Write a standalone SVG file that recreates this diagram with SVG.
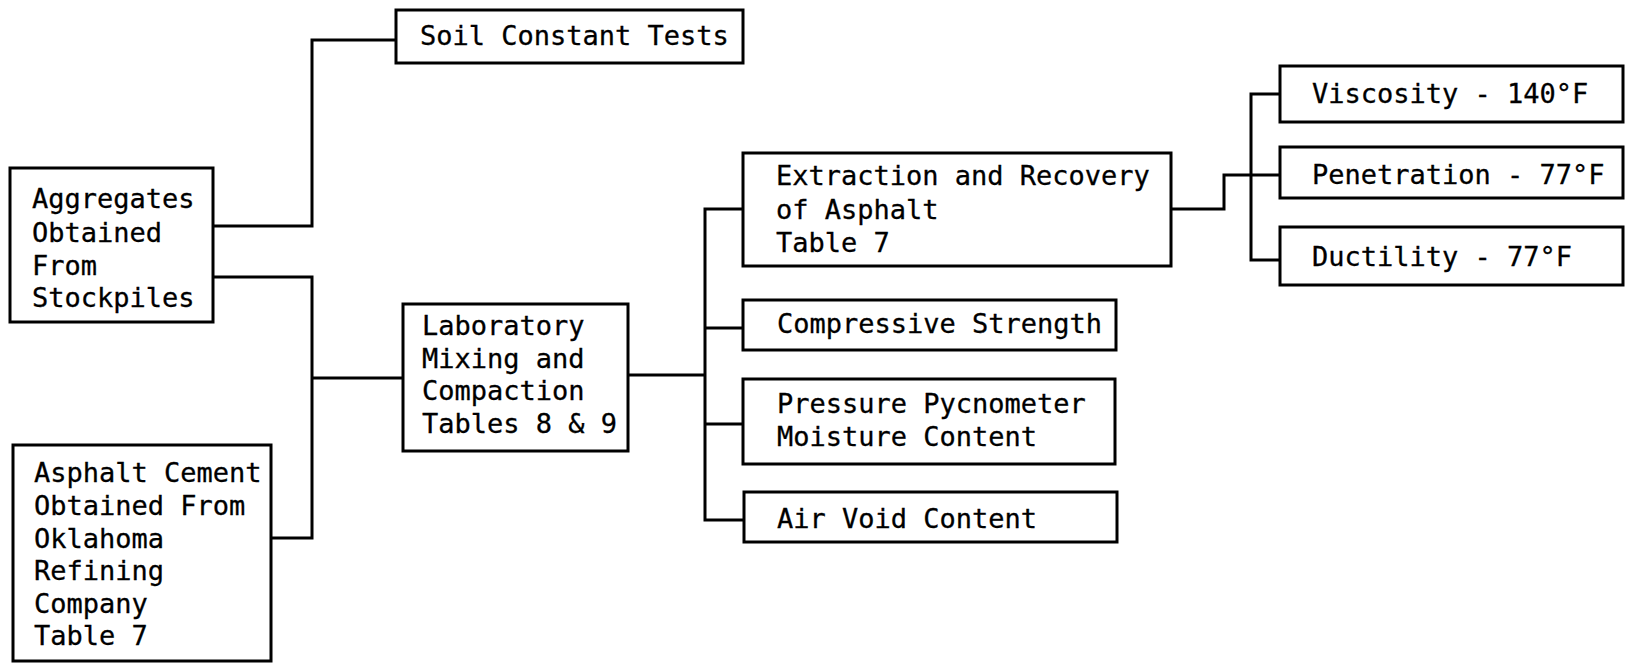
<svg xmlns="http://www.w3.org/2000/svg" width="1630" height="663" viewBox="0 0 1630 663">
  <style>
    .box { fill: #ffffff; stroke: #000000; stroke-width: 3; }
    .lbl { font-family: "DejaVu Sans Mono", "Liberation Mono", monospace; font-size: 27px; fill: #000000; stroke: #000000; stroke-width: 0.3; }
    .wire { fill: none; stroke: #000000; stroke-width: 3; stroke-linejoin: miter; }
  </style>
  <rect x="0" y="0" width="1630" height="663" fill="#ffffff"/>

  <!-- connectors -->
  <g id="connectors">
    <!-- aggregates to soil constant tests -->
    <polyline class="wire" points="213,226 312,226 312,40 396,40"/>
    <!-- aggregates and asphalt cement join into laboratory mixing -->
    <polyline class="wire" points="213,277 312,277 312,538 271,538"/>
    <line class="wire" x1="312" y1="378" x2="403" y2="378"/>
    <!-- laboratory mixing to test bus -->
    <line class="wire" x1="628" y1="375" x2="705" y2="375"/>
    <polyline class="wire" points="743,209 705,209 705,520 744,520"/>
    <line class="wire" x1="705" y1="328" x2="743" y2="328"/>
    <line class="wire" x1="705" y1="424" x2="743" y2="424"/>
    <!-- recovered asphalt to binder tests -->
    <polyline class="wire" points="1171,209 1224,209 1224,175 1280,175"/>
    <polyline class="wire" points="1280,94 1251,94 1251,260 1280,260"/>
  </g>

  <g id="aggregates">
    <rect class="box" x="10" y="168" width="203" height="154"/>
    <text class="lbl" x="32" y="208">Aggregates</text>
    <text class="lbl" x="32" y="242">Obtained</text>
    <text class="lbl" x="32" y="275">From</text>
    <text class="lbl" x="32" y="307">Stockpiles</text>
  </g>

  <g id="asphalt-cement">
    <rect class="box" x="13" y="445" width="258" height="216"/>
    <text class="lbl" x="34" y="482">Asphalt Cement</text>
    <text class="lbl" x="34" y="515">Obtained From</text>
    <text class="lbl" x="34" y="548">Oklahoma</text>
    <text class="lbl" x="34" y="580">Refining</text>
    <text class="lbl" x="34" y="613">Company</text>
    <text class="lbl" x="34" y="645">Table 7</text>
  </g>

  <g id="soil-constant">
    <rect class="box" x="396" y="10" width="347" height="53"/>
    <text class="lbl" x="420" y="45">Soil Constant Tests</text>
  </g>

  <g id="lab-mixing">
    <rect class="box" x="403" y="304" width="225" height="147"/>
    <text class="lbl" x="422" y="335">Laboratory</text>
    <text class="lbl" x="422" y="368">Mixing and</text>
    <text class="lbl" x="422" y="400">Compaction</text>
    <text class="lbl" x="422" y="433">Tables 8 &amp; 9</text>
  </g>

  <g id="extraction">
    <rect class="box" x="743" y="153" width="428" height="113"/>
    <text class="lbl" x="776" y="185">Extraction and Recovery</text>
    <text class="lbl" x="776" y="219">of Asphalt</text>
    <text class="lbl" x="776" y="252">Table 7</text>
  </g>

  <g id="compressive">
    <rect class="box" x="743" y="300" width="373" height="50"/>
    <text class="lbl" x="777" y="333">Compressive Strength</text>
  </g>

  <g id="pycnometer">
    <rect class="box" x="743" y="379" width="372" height="85"/>
    <text class="lbl" x="777" y="413">Pressure Pycnometer</text>
    <text class="lbl" x="777" y="446">Moisture Content</text>
  </g>

  <g id="air-void">
    <rect class="box" x="744" y="492" width="373" height="50"/>
    <text class="lbl" x="777" y="528">Air Void Content</text>
  </g>

  <g id="viscosity">
    <rect class="box" x="1280" y="66" width="343" height="56"/>
    <text class="lbl" x="1312" y="103">Viscosity - 140°F</text>
  </g>

  <g id="penetration">
    <rect class="box" x="1280" y="147" width="343" height="51"/>
    <text class="lbl" x="1312" y="184">Penetration - 77°F</text>
  </g>

  <g id="ductility">
    <rect class="box" x="1280" y="227" width="343" height="58"/>
    <text class="lbl" x="1312" y="266">Ductility - 77°F</text>
  </g>
</svg>
